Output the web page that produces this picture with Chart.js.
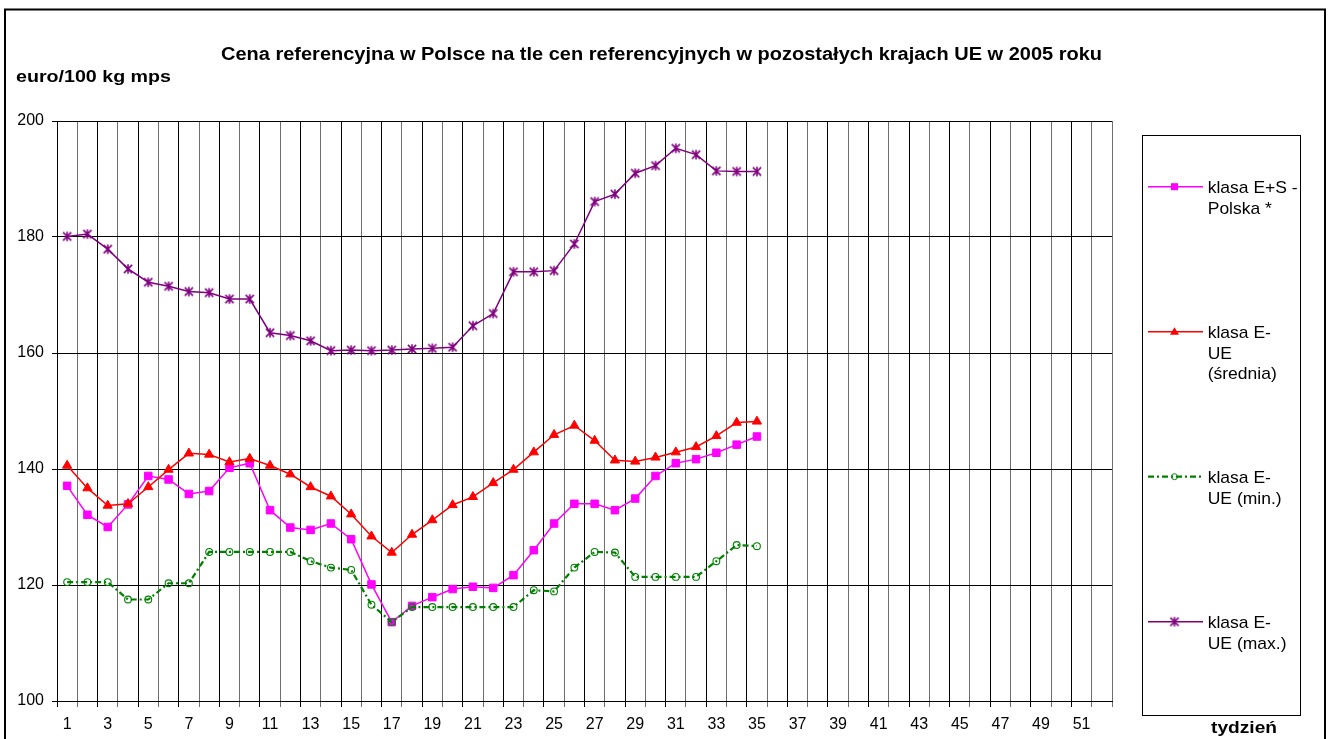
<!DOCTYPE html>
<html><head><meta charset="utf-8">
<script src="https://cdn.jsdelivr.net/npm/chart.js@4/dist/chart.umd.min.js"></script>
<style>html,body{margin:0;padding:0;background:#fff;overflow:hidden}canvas{display:block}</style>
</head><body>
<canvas id="c" width="1331" height="739"></canvas>
<script>
// ---- data ----
const weeks = ['1','2','3','4','5','6','7','8','9','10','11','12','13','14','15','16','17','18','19','20',
  '21','22','23','24','25','26','27','28','29','30','31','32','33','34','35','36','37','38','39','40',
  '41','42','43','44','45','46','47','48','49','50','51','52'];
const polska = [137.1,132.1,130.0,133.9,138.8,138.2,135.7,136.2,140.2,141.0,132.9,129.9,129.5,130.6,127.9,120.1,113.6,116.4,117.9,119.3,119.7,119.5,121.7,126.0,130.6,134.0,134.0,132.9,134.9,138.8,141.0,141.7,142.8,144.2,145.6];
const ueSrednia = [140.6,136.7,133.7,134.0,136.9,139.9,142.7,142.5,141.2,141.8,140.6,139.1,136.9,135.3,132.2,128.4,125.6,128.7,131.2,133.8,135.2,137.6,139.9,142.9,145.9,147.5,144.9,141.5,141.3,142.0,142.9,143.8,145.7,148.0,148.2];
const ueMin = [120.5,120.5,120.5,117.5,117.5,120.3,120.3,125.7,125.7,125.7,125.7,125.7,124.1,123.0,122.6,116.6,113.6,116.2,116.2,116.2,116.2,116.2,116.2,119.1,118.9,123.0,125.7,125.6,121.4,121.4,121.4,121.4,124.1,126.9,126.7];
const ueMax = [180.1,180.5,177.9,174.5,172.2,171.5,170.6,170.4,169.3,169.3,163.5,163.0,162.1,160.4,160.5,160.4,160.5,160.7,160.8,161.0,164.7,166.8,174.0,174.0,174.2,178.8,186.1,187.4,191.0,192.3,195.3,194.2,191.4,191.3,191.3];
const yMin = 100, yMax = 200, yStep = 20;
const seriesNames = ['klasa E+S - Polska *','klasa E- UE (średnia)','klasa E- UE (min.)','klasa E- UE (max.)'];
const legendLines = [['klasa E+S -','Polska *'],['klasa E-','UE','(średnia)'],['klasa E-','UE (min.)'],['klasa E-','UE (max.)']];
const titleText = 'Cena referencyjna w Polsce na tle cen referencyjnych w pozostałych krajach UE w 2005 roku';
const yUnitText = 'euro/100 kg mps';
const xTitleText = 'tydzień';

// ---- styles ----
const FONT = '"Liberation Sans", Arial, sans-serif';
const C_MAG = '#FF00FF', C_RED = '#FF0000', C_GRN = '#008000', C_PUR = '#800080';

function makeAsterisk(color){
  const s = 12, c = document.createElement('canvas'); c.width = s; c.height = s;
  const g = c.getContext('2d'); g.strokeStyle = color; g.lineWidth = 1.6;
  const m = s/2, r = 4.8, d = r*0.85;
  g.beginPath();
  g.moveTo(m, m-r); g.lineTo(m, m+r);
  g.moveTo(m-d, m-d); g.lineTo(m+d, m+d);
  g.moveTo(m+d, m-d); g.lineTo(m-d, m+d);
  g.stroke();
  return c;
}
const asterisk = makeAsterisk(C_PUR);

function drawFit(ctx, text, x, y, font, width){
  ctx.save();
  ctx.font = font;
  const w = ctx.measureText(text).width;
  const sx = width ? width / w : 1;
  ctx.translate(x, y); ctx.scale(sx, 1);
  ctx.textAlign = 'left'; ctx.textBaseline = 'alphabetic'; ctx.fillStyle = '#000';
  ctx.fillText(text, 0, 0);
  ctx.restore();
}

const decor = {
  id: 'decor',
  afterDraw(chart){
    const ctx = chart.ctx;
    ctx.save();
    ctx.strokeStyle = '#000'; ctx.lineWidth = 2;
    ctx.strokeRect(5, 9.5, 1320, 760);
    ctx.restore();
    drawFit(ctx, titleText, 221, 60, 'bold 18px ' + FONT, 881);
    drawFit(ctx, yUnitText, 16, 82, 'bold 16px ' + FONT, 155);
    drawFit(ctx, xTitleText, 1211, 733, 'bold 17px ' + FONT, 66);
    const bx = 1142.5, by = 135.5, bw = 158, bh = 580;
    ctx.save();
    ctx.strokeStyle = '#000'; ctx.lineWidth = 1;
    ctx.strokeRect(bx, by, bw, bh);
    ctx.font = '17px ' + FONT;
    const sx = 90 / ctx.measureText(legendLines[0][0]).width;
    const rows = [186.7, 331.7, 476.7, 621.7];
    chart.data.datasets.forEach((ds, i) => {
      const y = rows[i];
      ctx.save();
      ctx.strokeStyle = ds.borderColor; ctx.lineWidth = ds.borderWidth;
      ctx.setLineDash(ds.borderDash || []);
      ctx.beginPath(); ctx.moveTo(1148, y); ctx.lineTo(1203, y); ctx.stroke();
      ctx.restore();
      const mx = 1174.5;
      ctx.save();
      if (ds.pointStyle === 'rect') {
        ctx.fillStyle = ds.pointBackgroundColor; ctx.fillRect(mx-3.5, y-3.5, 7, 7);
      } else if (ds.pointStyle === 'triangle') {
        ctx.fillStyle = ds.pointBackgroundColor;
        ctx.beginPath(); ctx.moveTo(mx, y-4.5); ctx.lineTo(mx+4.5, y+3); ctx.lineTo(mx-4.5, y+3); ctx.closePath(); ctx.fill();
      } else if (ds.pointStyle === 'circle') {
        ctx.strokeStyle = ds.pointBorderColor; ctx.lineWidth = 1;
        ctx.beginPath(); ctx.arc(mx, y, 3, 0, Math.PI*2); ctx.stroke();
      } else {
        ctx.drawImage(ds.pointStyle, mx - ds.pointStyle.width/2, y - ds.pointStyle.height/2);
      }
      ctx.restore();
      legendLines[i].forEach((t, k) => {
        ctx.save();
        ctx.translate(1207.7, y + 6 + k*20.8); ctx.scale(sx, 1);
        ctx.fillStyle = '#000'; ctx.textAlign = 'left'; ctx.textBaseline = 'alphabetic';
        ctx.fillText(t, 0, 0);
        ctx.restore();
      });
    });
    ctx.restore();
  }
};

const tickFont = {family: FONT, size: 16};

new Chart(document.getElementById('c'), {
  type: 'line',
  data: {
    labels: weeks,
    datasets: [
      {label: seriesNames[0], data: polska, borderColor: C_MAG, backgroundColor: C_MAG, borderWidth: 1.5,
       pointStyle: 'rect', pointRadius: 5.3, pointBackgroundColor: C_MAG, pointBorderColor: C_MAG, pointBorderWidth: 1, order: 4},
      {label: seriesNames[1], data: ueSrednia, borderColor: C_RED, backgroundColor: C_RED, borderWidth: 1.5,
       pointStyle: 'triangle', pointRadius: 5.3, pointBackgroundColor: C_RED, pointBorderColor: C_RED, pointBorderWidth: 1, order: 3},
      {label: seriesNames[2], data: ueMin, borderColor: C_GRN, backgroundColor: 'rgba(0,0,0,0)', borderWidth: 2.2, borderDash: [6,3,2,3],
       pointStyle: 'circle', pointRadius: 3.4, pointBackgroundColor: 'rgba(0,0,0,0)', pointBorderColor: C_GRN, pointBorderWidth: 1.1, order: 2},
      {label: seriesNames[3], data: ueMax, borderColor: C_PUR, backgroundColor: C_PUR, borderWidth: 1.5,
       pointStyle: asterisk, pointRadius: 5, pointBackgroundColor: C_PUR, pointBorderColor: C_PUR, order: 1}
    ]
  },
  options: {
    responsive: false, animation: false, devicePixelRatio: 1,
    layout: {padding: {left: 0, top: 121, right: 219, bottom: 0}},
    elements: {line: {tension: 0, fill: false}},
    plugins: {legend: {display: false}, title: {display: false}, tooltip: {enabled: false}},
    scales: {
      x: {
        offset: true,
        grid: {offset: true, color: (c) => (c.index % 2 === 0 ? '#000' : '#6e6e6e'), lineWidth: 1, tickLength: 6, drawTicks: true},
        border: {color: '#000', width: 1},
        ticks: {autoSkip: false, maxRotation: 0, minRotation: 0, padding: 8, color: '#000', font: tickFont,
          callback: (v, i) => (i % 2 === 0 ? weeks[i] : '')},
        afterFit: s => { s.height = 38; }
      },
      y: {
        min: yMin, max: yMax,
        grid: {color: '#000', lineWidth: 1, tickLength: 5},
        border: {color: '#000', width: 1},
        ticks: {stepSize: yStep, padding: 8, color: '#000', font: tickFont},
        afterFit: s => { s.width = 57; }
      }
    }
  },
  plugins: [decor]
});
</script>
</body></html>
